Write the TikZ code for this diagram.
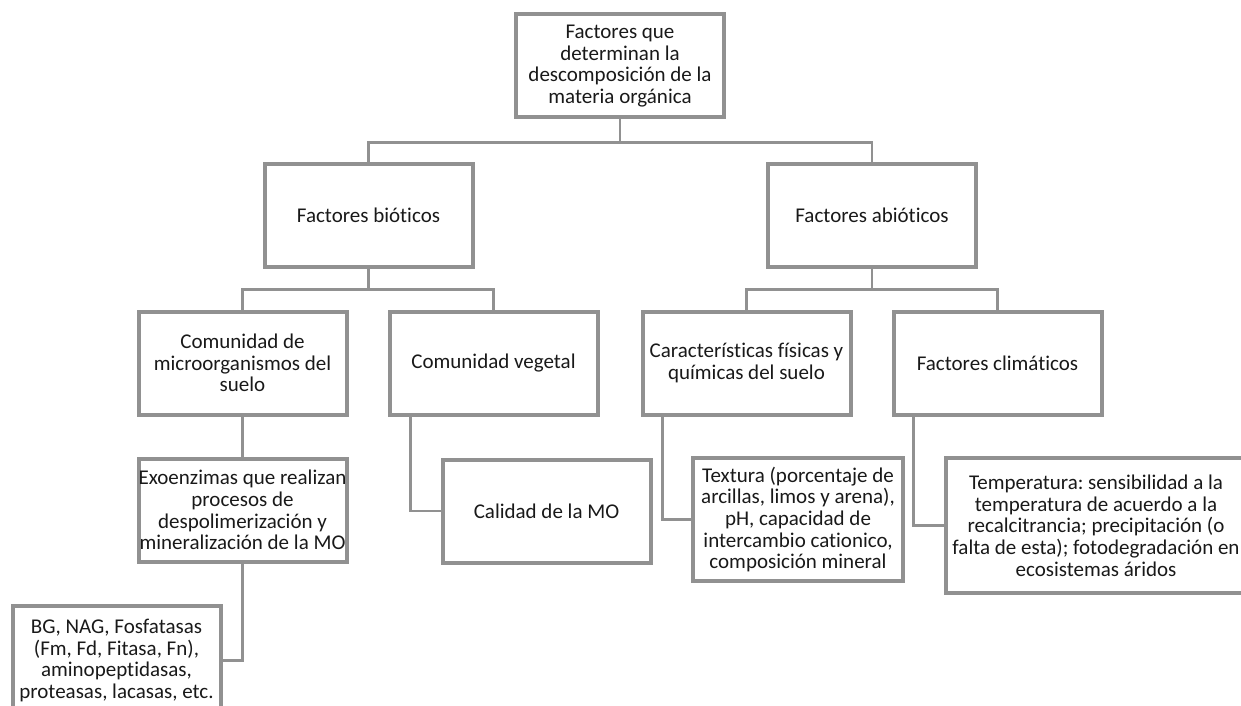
\documentclass[tikz,border=0pt]{standalone}
\usepackage{fontspec}
\setmainfont{Carlito}[Ligatures={NoCommon,NoContextual}]
\usepackage{tikz}
\frenchspacing

\definecolor{boxgray}{RGB}{145,145,145}
\definecolor{textgray}{RGB}{25,25,25}

\begin{document}
\begin{tikzpicture}[x=0.5pt,y=-0.5pt]

\useasboundingbox (0,0) rectangle (1241,706);

        % Setup the style for the boxes and the links
        \tikzset{box style/.style={rectangle,
                                   draw=boxgray,
                                   line width=2pt,
                                   inner sep=0pt,
                                   align=center,
                                   text=textgray,
                                   font=\fontsize{10.5}{10.85}\selectfont,
                                   minimum width=104pt,
                                   minimum height=51.5pt},
                 link style/.style={draw=boxgray,
                                    line width=1.2pt}}

% Add the boxes
\node[box style] at (620,66) (root) {Factores que\\determinan la\\descomposición de la\\materia orgánica};

\node[box style] at (368.5,215) (bio) {Factores bióticos};
\node[box style] at (872,215) (abio) {Factores abióticos};

\node[box style] at (242.5,363) (micro) {Comunidad de\\microorganismos del\\suelo};
\node[box style] at (493.5,363) (veg) {Comunidad vegetal};
\node[box style] at (746.5,363) (fisq) {Características físicas y\\químicas del suelo};
\node[box style] at (997.5,363) (clim) {Factores climáticos};

\node[box style] at (242.5,510) (exo) {Exoenzimas que realizan\\procesos de\\despolimerización y\\mineralización de la MO};
\node[box style] at (546.5,511) (cal) {Calidad de la MO};
\node[box style, minimum width=105pt, minimum height=61.5pt] at (798,519.5) (tex) {Textura (porcentaje de\\arcillas, limos y arena),\\pH, capacidad de\\intercambio cationico,\\composición mineral};
\node[box style, minimum width=150pt, minimum height=67.5pt] at (1096,525.5) (temp) {Temperatura: sensibilidad a la\\temperatura de acuerdo a la\\recalcitrancia; precipitación (o\\falta de esta); fotodegradación en\\ecosistemas áridos};

\node[box style, minimum height=55pt] at (116.5,660.5) (enz) {BG, NAG, Fosfatasas\\(Fm, Fd, Fitasa, Fn),\\aminopeptidasas,\\proteasas, lacasas, etc.};

	 \draw[link style] (root.south) -- ++(0,23) -| (bio.north);
	 \draw[link style] (root.south) -- ++(0,23) -| (abio.north);
	 \draw[link style] (bio.south) -- ++(0,21) -| (micro.north);
	 \draw[link style] (bio.south) -- ++(0,21) -| (veg.north);
	 \draw[link style] (abio.south) -- ++(0,21) -| (fisq.north);
	 \draw[link style] (abio.south) -- ++(0,21) -| (clim.north);
	 \draw[link style] (micro.south) -- (exo.north);
	 \draw[link style] (exo.south) |- (enz.east);
	 \draw[link style] ([xshift=11.5pt]veg.south west) |- (cal.west);
	 \draw[link style] ([xshift=11pt]fisq.south west) |- (tex.west);
	 \draw[link style] ([xshift=11pt]clim.south west) |- (temp.west);
\end{tikzpicture}
\end{document}
